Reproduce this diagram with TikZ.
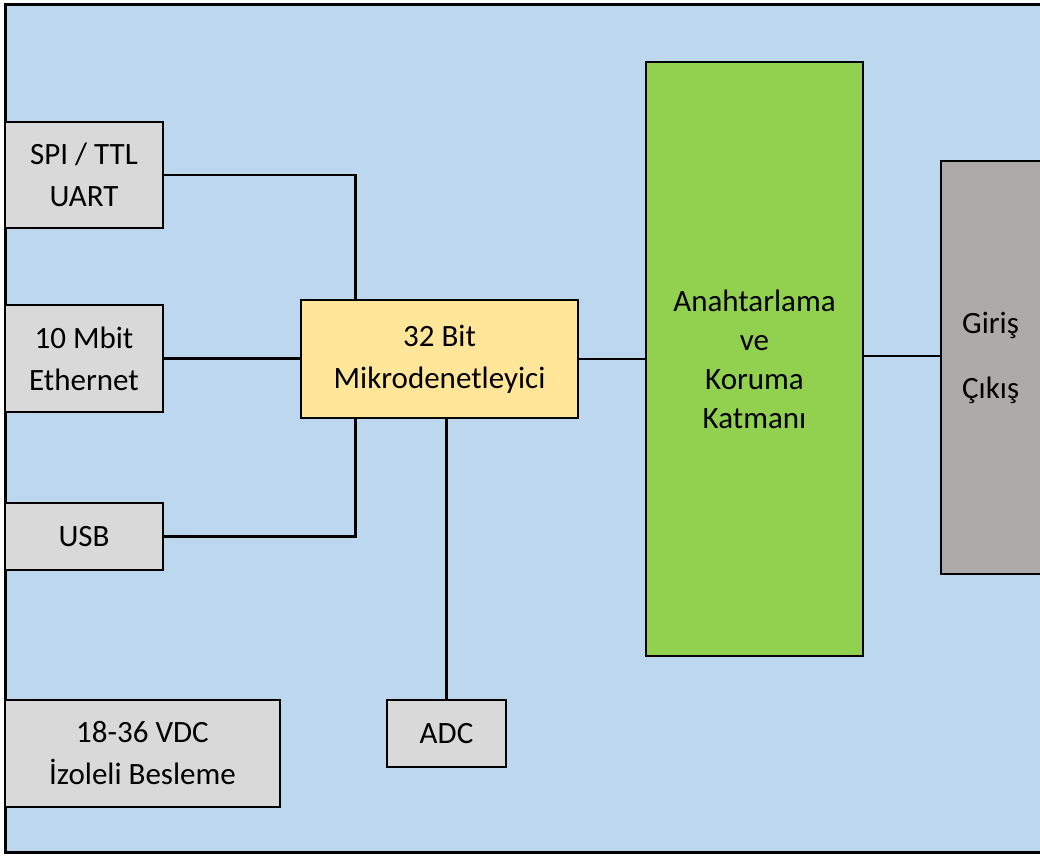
\documentclass[tikz,border=0pt]{standalone}
\usepackage{fontspec}
\setmainfont{Carlito}
\usetikzlibrary{positioning}

\definecolor{bgblue}{HTML}{BDD7EE}
\definecolor{boxgray}{HTML}{D9D9D9}
\definecolor{mcuyellow}{HTML}{FFE699}
\definecolor{swgreen}{HTML}{92D050}
\definecolor{iogray}{HTML}{AEAAAA}

\tikzset{
  blk/.style={draw, line width=1.6pt, fill=boxgray, align=center, inner sep=0pt,
    font=\fontsize{31}{42}\selectfont},
  wire/.style={line width=2.6pt}
}

\begin{document}
\begin{tikzpicture}[x=1pt, y=-1pt]
  \useasboundingbox (0,0) rectangle (1040,855);
  \clip (0,0) rectangle (1040,855);
  \draw[line width=3pt, fill=bgblue] (5,4) rectangle (1080,852);

  \node[blk, minimum width=158pt, minimum height=106pt] (spi) at (84,175) {SPI / TTL\\UART};
  \node[blk, minimum width=158pt, minimum height=107pt] (eth) at (84,358.5) {10 Mbit\\Ethernet};
  \node[blk, minimum width=158pt, minimum height=67pt] (usb) at (84,536.5) {USB};
  \node[blk, minimum width=275pt, minimum height=107pt] (pwr) at (142.5,753.5) {18-36 VDC\\İzoleli Besleme};
  \node[blk, minimum width=119pt, minimum height=67pt] (adc) at (446.5,733.5) {ADC};
  \node[blk, fill=mcuyellow, minimum width=277pt, minimum height=118pt] (mcu) at (439.5,359) {32 Bit\\Mikrodenetleyici};
  \node[blk, fill=swgreen, minimum width=217pt, minimum height=594pt,
    font=\fontsize{31}{39}\selectfont] (sw) at (754.5,359) {Anahtarlama\\ve\\Koruma\\Katmanı};
  \node[blk, fill=iogray, minimum width=160pt, minimum height=413pt] (io) at (1021,367.5) {};
  \node[align=left, anchor=west, inner sep=0pt, font=\fontsize{31}{65}\selectfont] (iotxt) at (962,358) {Giriş\\Çıkış};

  \draw[wire] (spi.east) -| ([xshift=55pt]mcu.north west);
  \draw[wire] (eth.east) -- (eth.east -| mcu.west);
  \draw[wire] (usb.east) -| ([xshift=55pt]mcu.south west);
  \draw[wire] (adc.north) -- (adc.north |- mcu.south);
  \draw[wire] (mcu.east) -- (mcu.east -| sw.west);
  \draw[wire] ([yshift=3pt]sw.east) -- ([yshift=3pt]sw.east -| io.west);
\end{tikzpicture}
\end{document}
